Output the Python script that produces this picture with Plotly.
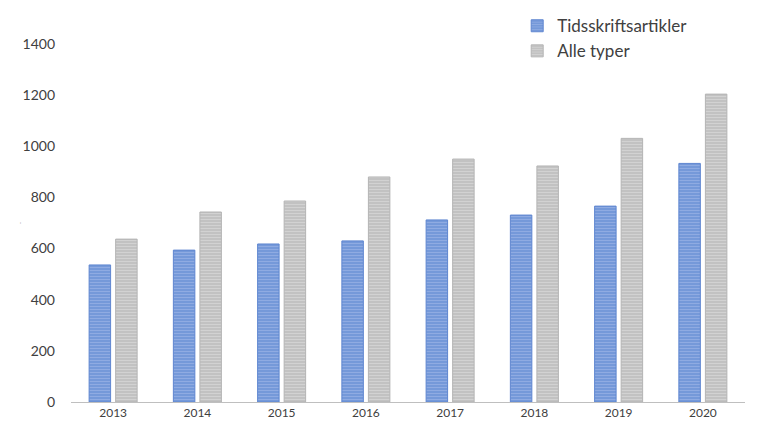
import plotly.graph_objects as go

years = ["2013", "2014", "2015", "2016", "2017", "2018", "2019", "2020"]
tidsskrift = [536, 594, 618, 630, 712, 731, 766, 933]
alle_typer = [637, 743, 786, 880, 950, 923, 1031, 1204]
y_ticks = [0, 200, 400, 600, 800, 1000, 1200, 1400]

FONT = "Lato"

fig = go.Figure()
fig.add_trace(go.Bar(
    x=years, y=tidsskrift, name="Tidsskriftsartikler",
    marker=dict(color="#7196d8",
                line=dict(color="#5f86d0", width=1),
                pattern=dict(shape="-", size=3, solidity=0.45,
                             fgcolor="#8fabe2", bgcolor="#7095d7", fillmode="replace")),
))
fig.add_trace(go.Bar(
    x=years, y=alle_typer, name="Alle typer",
    marker=dict(color="#c4c4c4",
                line=dict(color="#b4b4b4", width=1),
                pattern=dict(shape="-", size=3, solidity=0.45,
                             fgcolor="#d2d2d2", bgcolor="#bfbfbf", fillmode="replace")),
))

fig.update_layout(
    width=767, height=431,
    margin=dict(l=71, r=22, t=44, b=29, autoexpand=False),
    paper_bgcolor="white", plot_bgcolor="white",
    barmode="group", bargap=0.37, bargroupgap=0.19,
    font=dict(family=FONT, color="#595959", size=12),
    showlegend=True,
    legend=dict(x=0.662, y=1.10, xanchor="left", yanchor="top",
                font=dict(size=17, color="#404040", family=FONT),
                itemwidth=30, tracegroupgap=0, bgcolor="rgba(0,0,0,0)"),
    xaxis=dict(showline=True, linecolor="#bfbfbf", linewidth=1, ticks="",
               showgrid=False, tickfont=dict(size=12, color="#404040")),
    yaxis=dict(range=[0, 1400], tickvals=y_ticks, showgrid=False, zeroline=False,
               showline=False, ticks="", ticklabelstandoff=15,
               tickfont=dict(size=14, color="#404040")),
)

fig.add_annotation(x=-0.075, y=0.5, xref="paper", yref="paper", xanchor="center",
                   yanchor="middle", text="-", textangle=-90, showarrow=False,
                   font=dict(size=8, color="#bfbfbf", family=FONT))

fig.write_html("out.html")
